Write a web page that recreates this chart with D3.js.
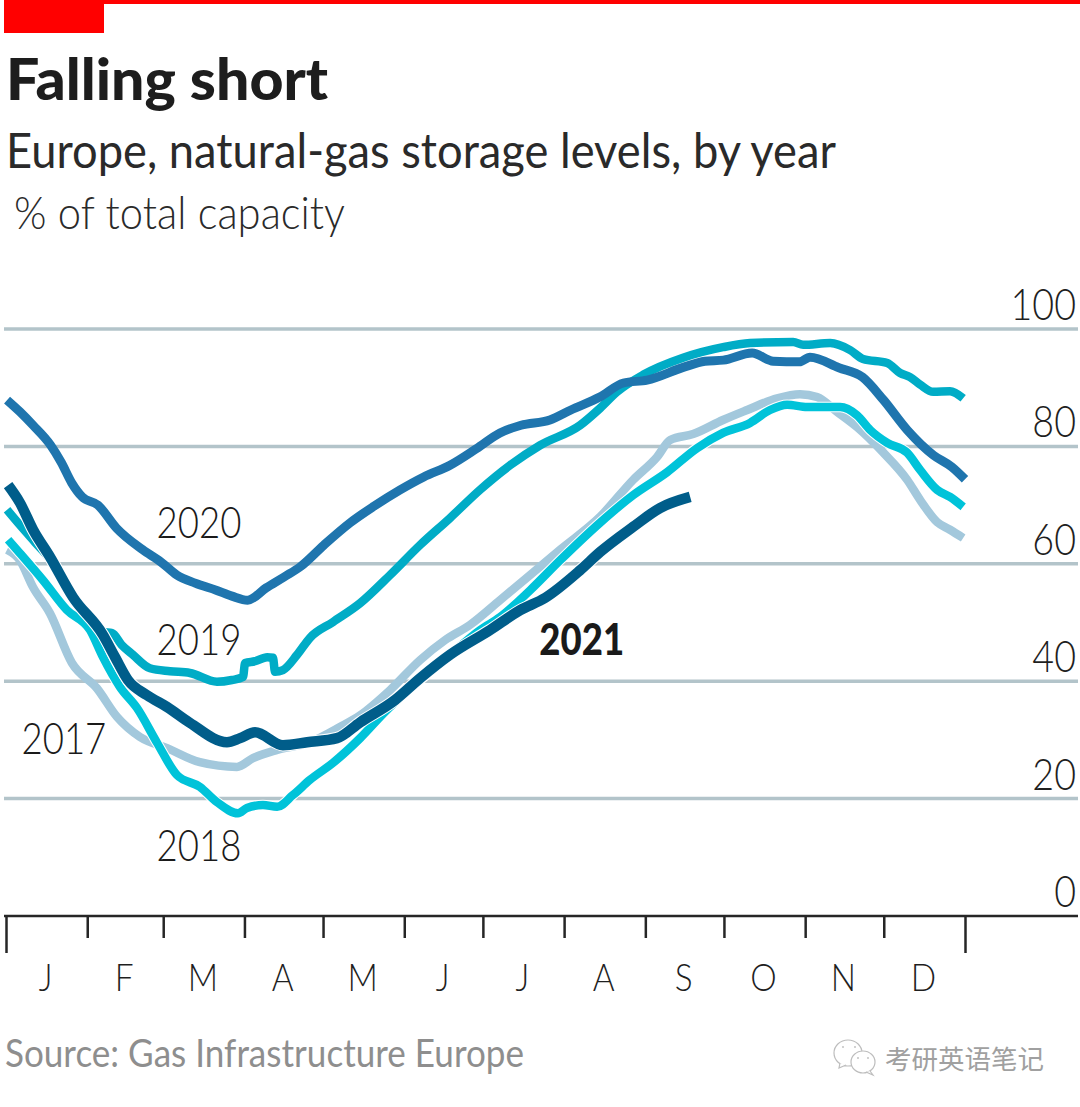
<!DOCTYPE html>
<html>
<head>
<meta charset="utf-8">
<script src="https://cdn.jsdelivr.net/npm/d3@7"></script>
<style>
  html, body { margin: 0; padding: 0; background: #fff; }
  svg { display: block; }
  text { font-family: "Lato", "Noto Sans", sans-serif; fill: #1f1f1f; }
</style>
</head>
<body>
<div id="chart"></div>
<script>
const monthLabels = ["J", "F", "M", "A", "M", "J", "J", "A", "S", "O", "N", "D"];
const monthStarts = [0, 31, 60, 91, 121, 152, 182, 213, 244, 274, 305, 335, 366];
const yTicks = [0, 20, 40, 60, 80, 100];

const days2017 = [0.4, 5.3, 10.3, 16.7, 25.1, 34.6, 42.3, 51, 61.3, 73.8, 87.9, 94, 103.2, 115.7, 127.1, 134.8, 146.2, 157.6, 167.1, 176.6, 188, 199.5, 210.9, 226.1, 238.7, 247.8, 252.8, 261.5, 272.9, 282.1, 293.5, 302.2, 308.7, 316.3, 323.9, 333.8, 343, 347.9, 354.4, 359.3, 364.3];
const values2017 = [62.4, 60.6, 56.0, 51.6, 43.1, 38.8, 33.9, 30.5, 28.6, 26.2, 25.4, 26.9, 28.3, 29.6, 32.2, 34.2, 38.5, 43.6, 47.0, 49.6, 53.8, 58.1, 62.4, 68.0, 74.3, 78.2, 81.1, 82.1, 84.5, 86.2, 88.2, 88.9, 88.4, 85.9, 83.3, 79.0, 74.3, 70.9, 67.1, 65.8, 64.4];

const days2018 = [0.8, 5.3, 14.1, 23.2, 32, 36.9, 43.4, 49.9, 57.5, 65.1, 73.8, 80.3, 88.3, 91.7, 97.8, 103.2, 109.2, 115.7, 124.5, 134.8, 144.3, 157.6, 169, 180.4, 188, 199.5, 210.9, 226.1, 238.7, 251.6, 263, 272.9, 283.2, 290.8, 297.3, 304.9, 317.5, 323.9, 328.9, 335.4, 343, 347.9, 354.4, 359.3, 364.3];
const values2018 = [64.1, 61.8, 57.2, 52.1, 48.7, 44.1, 39.0, 35.4, 29.5, 24.0, 22.0, 19.4, 17.5, 18.4, 18.9, 18.6, 20.6, 23.2, 26.1, 30.3, 34.8, 40.2, 44.5, 48.7, 50.9, 55.5, 60.6, 67.0, 71.7, 75.6, 79.7, 82.3, 84.0, 86.2, 87.1, 86.7, 86.7, 85.3, 82.8, 80.6, 78.9, 76.0, 72.6, 71.4, 69.7];

const days2019 = [0.4, 5.3, 11, 16.7, 25.5, 37, 40.4, 44, 48.3, 54.8, 62.4, 70, 80.3, 86, 90.2, 91, 94.8, 99.4, 101.6, 102.4, 105.4, 110.8, 115.7, 124.5, 134.8, 146.2, 157.6, 169, 180.4, 191.9, 203.3, 218.5, 226.1, 232.6, 242.5, 257.7, 272.9, 283.2, 299.6, 303.4, 313.7, 321.3, 326.2, 335.4, 340.3, 344.1, 348, 352.9, 359.3, 364.3];
const values2019 = [69.2, 66.6, 63.7, 60.8, 54.0, 48.4, 48.2, 46.2, 44.5, 42.2, 41.7, 41.4, 39.9, 40.2, 40.7, 43.1, 43.4, 44.1, 44.0, 41.6, 41.9, 44.5, 47.4, 50.1, 53.3, 58.1, 63.2, 67.8, 72.6, 76.8, 80.2, 83.6, 86.5, 89.3, 92.2, 95.1, 96.9, 97.6, 97.8, 97.3, 97.6, 96.4, 94.9, 94.2, 92.5, 91.8, 90.5, 89.3, 89.4, 88.2];

const days2020 = [0.4, 5.3, 10.3, 17, 21, 25, 29, 35, 42, 52, 59, 65, 72, 80, 86, 92, 99, 106, 112, 121, 131, 140, 150, 159, 169, 179, 188, 196, 207, 215, 226, 235, 244, 258, 266, 273, 284, 292, 302, 306, 317, 326, 334, 343, 353, 360, 365];
const values2020 = [87.9, 85.9, 83.6, 80.2, 77.3, 73.8, 71.4, 70.0, 66.1, 62.4, 60.3, 58.1, 56.7, 55.5, 54.5, 53.8, 55.9, 57.8, 59.5, 63.2, 67.0, 69.8, 72.6, 74.8, 76.8, 79.6, 82.3, 83.6, 84.5, 86.2, 88.4, 90.8, 91.3, 93.5, 94.5, 94.7, 95.9, 94.5, 94.4, 95.2, 93.4, 91.8, 87.9, 82.8, 78.5, 76.5, 74.4];

const days2021 = [0.8, 5.3, 10.3, 16.7, 25.5, 36.9, 41.5, 46.4, 53.7, 61.3, 70, 84.1, 89.1, 94.8, 105.4, 114.6, 126, 134.8, 148.1, 157.6, 169, 184.2, 195.7, 205.2, 218.5, 226.1, 238.7, 248.9, 260.4];
const values2021 = [73.4, 70.4, 65.8, 61.2, 54.3, 47.9, 44.1, 40.2, 37.6, 35.6, 32.9, 29.6, 30.3, 31.3, 29.1, 29.6, 30.3, 33.0, 36.8, 40.5, 44.5, 48.7, 52.1, 54.2, 58.9, 62.0, 66.3, 69.5, 71.4];

const seriesOrder = [
  { days: days2017, values: values2017, color: "#a3c8dc", thick: 8.5, casing: false },
  { days: days2019, values: values2019, color: "#00acc6", thick: 8.5, casing: false },
  { days: days2018, values: values2018, color: "#00c3d9", thick: 8.5, casing: true },
  { days: days2020, values: values2020, color: "#1f75ae", thick: 9, casing: false },
  { days: days2021, values: values2021, color: "#005d8a", thick: 10.5, casing: true }
];

const seriesLabels = [
  { text: "2020", day: 57.3, value: 64.4, bold: false },
  { text: "2019", day: 57.3, value: 44.4, bold: false },
  { text: "2017", day: 5.9, value: 27.6, bold: false },
  { text: "2018", day: 57.3, value: 9.3, bold: false },
  { text: "2021", day: 203, value: 44.5, bold: true }
];

const width = 1080, height = 1107;

const svg = d3.select("#chart").append("svg")
  .attr("width", width)
  .attr("height", height);

const x = d3.scaleLinear().domain([0, 365]).range([6, 965]);
const xMonth = d3.scaleLinear().domain([0, 366]).range([6, 965]);
const y = d3.scaleLinear().domain([0, 100]).range([916, 329]);

// header
svg.append("rect").attr("x", 4).attr("y", 0).attr("width", width - 4).attr("height", 4).attr("fill", "#ff0000");
svg.append("rect").attr("x", 4).attr("y", 0).attr("width", 100).attr("height", 33).attr("fill", "#ff0000");

function fitted(str, xPos, yPos, size, len, weight, color) {
  return svg.append("text")
    .attr("x", xPos).attr("y", yPos)
    .attr("font-size", size)
    .attr("font-weight", weight)
    .attr("textLength", len)
    .attr("lengthAdjust", "spacingAndGlyphs")
    .style("fill", color)
    .text(str);
}

// squeeze a text selection sideways, the source face is a condensed one
function narrow(sel, ratio) {
  sel.attr("lengthAdjust", "spacingAndGlyphs")
    .attr("textLength", function() { return this.getComputedTextLength() * ratio; });
}

fitted("Falling short", 6, 100, 57, 322, 900, "#1d1d1d");
fitted("Europe, natural-gas storage levels, by year", 6, 168, 49, 830, 400, "#2a2a2a");
fitted("% of total capacity", 14, 229, 45, 331, 300, "#2a2a2a");

// grid
svg.append("g").selectAll("line")
  .data(yTicks.filter(d => d > 0))
  .join("line")
  .attr("x1", 4).attr("x2", 1078)
  .attr("y1", d => y(d)).attr("y2", d => y(d))
  .attr("stroke", "#b3c4ca")
  .attr("stroke-width", 3.5);

// y labels
svg.append("g").selectAll("text")
  .data(yTicks)
  .join("text")
  .attr("transform", d => `translate(1076,${y(d) - 9}) scale(0.875,1)`)
  .attr("text-anchor", "end")
  .attr("font-size", 43)
  .attr("font-weight", 300)
  .style("fill", "#1f1f1f")
  .text(d => d);

// lines
const line = d3.line().x(d => x(d[0])).y(d => y(d[1])).curve(d3.curveMonotoneX);

seriesOrder.forEach(s => {
  const pts = d3.zip(s.days, s.values);
  if (s.casing) {
    svg.append("path").datum(pts)
      .attr("fill", "none")
      .attr("stroke", "#fff")
      .attr("stroke-width", s.thick + 2)
      .attr("stroke-linejoin", "round")
      .attr("d", line);
  }
  svg.append("path").datum(pts)
    .attr("fill", "none")
    .attr("stroke", s.color)
    .attr("stroke-width", s.thick)
    .attr("stroke-linejoin", "round")
    .attr("d", line);
});

// series labels
svg.append("g").selectAll("text")
  .data(seriesLabels)
  .join("text")
  .attr("x", d => x(d.day))
  .attr("y", d => y(d.value))
  .attr("font-size", 43)
  .attr("font-weight", d => d.bold ? 900 : 300)
  .style("fill", "#1a1a1a")
  .text(d => d.text)
  .call(narrow, 0.85);

// x axis
const axis = d3.axisBottom(xMonth)
  .tickValues(monthStarts)
  .tickSize(22)
  .tickFormat("");
const axisG = svg.append("g").attr("transform", `translate(0,${y(0)})`).call(axis);
axisG.select(".domain").attr("stroke", "#262626").attr("stroke-width", 2.5).attr("d", "M4,0H1078");
axisG.selectAll(".tick line")
  .attr("stroke", "#262626")
  .attr("stroke-width", 2.5)
  .attr("y2", d => (d === 0 || d === 366) ? 37 : 22);

svg.append("g").selectAll("text")
  .data(monthLabels)
  .join("text")
  .attr("x", (d, i) => xMonth((monthStarts[i] + monthStarts[i + 1]) / 2) - 1)
  .attr("y", 991)
  .attr("text-anchor", "middle")
  .attr("font-size", 38)
  .attr("font-weight", 300)
  .style("fill", "#1f1f1f")
  .text(d => d)
  .call(narrow, 0.88);

// source
fitted("Source: Gas Infrastructure Europe", 5, 1067, 39, 519, 400, "#8e8e8e");

// watermark
const wm = svg.append("g").attr("fill", "#fff").attr("stroke", "#bdbdbd").attr("stroke-width", 1.2);
wm.append("ellipse").attr("cx", 848).attr("cy", 1053).attr("rx", 14).attr("ry", 13);
wm.append("path").attr("d", "M840,1063 L839,1068 L846,1065");
wm.append("ellipse").attr("cx", 863).attr("cy", 1062).attr("rx", 12).attr("ry", 11);
wm.append("path").attr("d", "M870,1071 L873,1075 L866,1072");
wm.selectAll("circle")
  .data([[843, 1047], [855, 1047], [858, 1058], [868, 1058]])
  .join("circle")
  .attr("cx", d => d[0]).attr("cy", d => d[1]).attr("r", 0.9)
  .attr("fill", "#bdbdbd").attr("stroke", "none");
svg.append("text")
  .attr("x", 885).attr("y", 1069)
  .attr("font-size", 26.5)
  .style("font-family", '"Noto Sans CJK SC"')
  .style("fill", "#a0a0a0")
  .text("考研英语笔记");
</script>
</body>
</html>
